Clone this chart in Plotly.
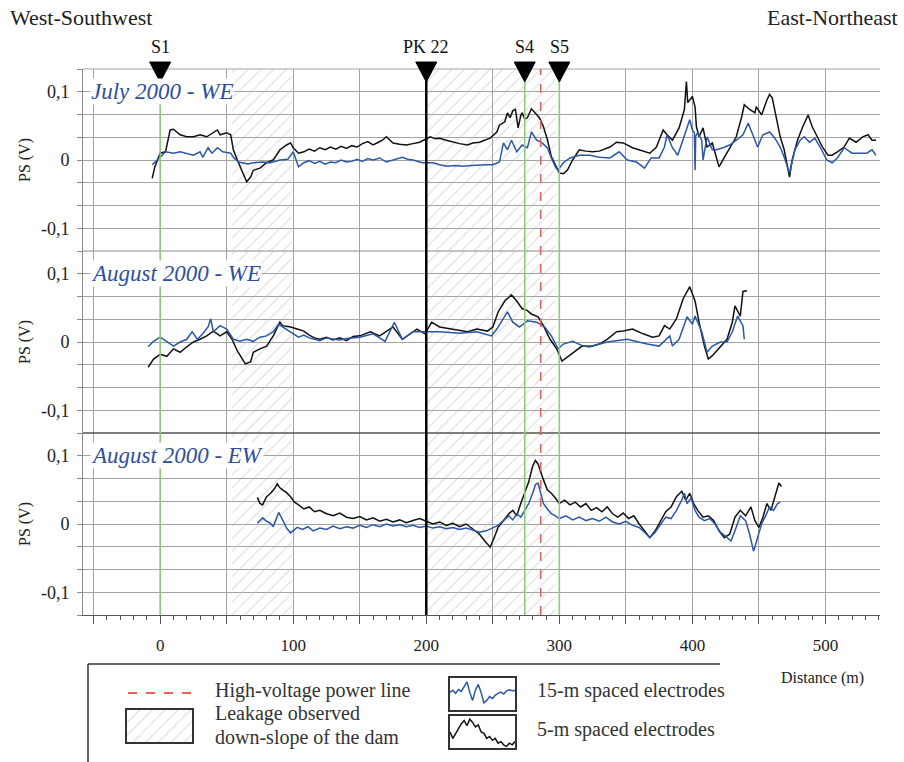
import plotly.graph_objects as go

# ---------------- DATA ----------------
# July 2000 - WE
jul_black_x = [-6, -4, 0, 4, 7.5, 10, 15, 20, 25, 30, 35, 40, 43, 45, 50, 53, 55, 58, 62, 65, 68, 70, 75, 80, 85, 90, 95, 98, 100, 104,
               108, 112, 116, 120, 124, 128, 132, 136, 140, 144, 148, 152, 156, 160, 164,
               167, 170, 175, 180, 185, 190, 195, 199, 203, 207, 210, 215, 220, 225, 231, 235, 240, 244, 248, 253, 255, 259, 261, 263, 265, 267,
               269, 271, 272, 274, 276, 279, 282, 285, 288, 291, 294, 298, 300, 303, 306, 310, 315, 320, 325,
               330, 338, 343, 348, 355, 363, 368, 373, 378, 381, 385, 390, 394, 395.5, 396.5, 400, 402, 403, 405, 408, 411, 415, 418, 420,
               424, 428, 433, 437, 439, 443, 447, 448, 452, 456, 458, 460, 463, 466, 469, 473, 475, 479, 483, 487, 490, 494, 498, 502, 505,
               509, 514, 518, 523, 528, 532, 535, 538]
jul_black_y = [-0.027, -0.010, 0.010, 0.012, 0.044, 0.045, 0.037, 0.034, 0.034, 0.037, 0.034, 0.041, 0.044, 0.037, 0.040, 0.037, 0.015, 0.000, -0.019, -0.032, -0.025, -0.015, -0.012, -0.004, 0.000, 0.015, 0.022, 0.025, 0.018, 0.010,
               0.012, 0.016, 0.013, 0.018, 0.015, 0.019, 0.016, 0.020, 0.017, 0.021, 0.019, 0.024, 0.027, 0.022, 0.026,
               0.029, 0.034, 0.025, 0.023, 0.022, 0.024, 0.026, 0.030, 0.034, 0.031, 0.032, 0.029, 0.026, 0.024, 0.022, 0.025, 0.026, 0.029, 0.032, 0.041, 0.051, 0.056, 0.069, 0.062, 0.072, 0.074,
               0.047, 0.065, 0.069, 0.060, 0.062, 0.075, 0.069, 0.062, 0.049, 0.030, 0.005, -0.010, -0.019, -0.020, -0.015, 0.000, 0.015, 0.013, 0.012,
               0.013, 0.019, 0.026, 0.025, 0.018, 0.013, 0.010, 0.019, 0.044, 0.037, 0.029, 0.047, 0.074, 0.115, 0.084, 0.093, 0.078, 0.049, 0.034, 0.047, 0.019, 0.025, 0.004, -0.010,
               0.004, 0.018, 0.034, 0.063, 0.081, 0.074, 0.069, 0.078, 0.066, 0.088, 0.096, 0.091, 0.062, 0.034, 0.015, -0.025, 0.000, 0.029, 0.049, 0.066, 0.049, 0.034, 0.018, 0.007, 0.007,
               0.012, 0.019, 0.032, 0.026, 0.034, 0.037, 0.029, 0.029]
jul_blue_x = [-6, -2, 0, 4, 10, 15, 20, 25, 30, 32, 36, 39, 43, 47, 53, 55, 59, 62, 66, 70, 77, 83, 90, 96, 100, 104,
              108, 112, 116, 120, 124, 128, 132, 136, 140, 144, 148, 152, 156, 160, 165,
              170, 175, 182, 186, 190, 197, 205, 210, 216, 222, 228, 234, 240, 245, 250, 255, 258, 261, 264, 268, 272, 276, 279, 283, 287,
              291, 294, 297, 299, 303, 308, 315, 323, 330, 338, 345, 351, 358, 364, 369, 375, 379, 381, 385, 389, 393, 396, 398, 400,
              401.5, 402, 402.5, 404, 407, 408, 411, 415, 418, 423, 428, 433, 438, 442, 445, 449, 453, 458, 462, 466, 469, 473, 477, 481,
              484, 488, 492, 496, 501, 505, 509, 514, 520, 526, 531, 535, 538]
jul_blue_y = [-0.007, 0.000, 0.004, 0.012, 0.010, 0.012, 0.010, 0.007, 0.012, 0.004, 0.018, 0.010, 0.018, 0.012, 0.010, 0.004, -0.003, -0.004, -0.006, -0.004, -0.003, -0.004, 0.000, 0.001, 0.012, -0.010,
              -0.004, -0.001, -0.005, -0.002, -0.006, -0.003, -0.004, 0.000, -0.003, -0.002, 0.001, -0.002, 0.002, 0.000, 0.003,
              -0.003, 0.000, 0.004, 0.001, 0.000, -0.004, -0.004, -0.007, -0.009, -0.008, -0.009, -0.008, -0.007, -0.007, -0.007, -0.003, 0.025, 0.015, 0.029, 0.012, 0.022, 0.018, 0.041, 0.029, 0.025,
              0.018, 0.003, -0.010, -0.015, -0.004, 0.003, 0.007, 0.007, 0.004, 0.003, 0.012, 0.000, -0.003, -0.012, 0.003, 0.003, 0.019, 0.037, 0.018, 0.007, 0.029, 0.047, 0.059, 0.044,
              0.040, -0.015, 0.035, 0.040, 0.029, 0.000, 0.034, 0.015, 0.015, 0.018, 0.022, 0.029, 0.037, 0.054, 0.040, 0.019, 0.037, 0.041, 0.032, 0.019, 0.004, -0.019, 0.015, 0.029,
              0.034, 0.026, 0.032, 0.019, 0.000, -0.004, 0.003, 0.018, 0.010, 0.010, 0.010, 0.015, 0.007]

# August 2000 - WE
augwe_black_x = [-9, -5, 0, 5, 10, 15, 20, 25, 30, 35, 40, 45, 50, 54, 58, 62, 64, 68, 70, 75, 80, 85, 90, 92, 98, 103,
                 108, 112, 116, 120, 125, 130, 135, 140, 145,
                 150, 158, 165, 175, 182, 193, 199, 204, 210, 220, 231, 238, 246, 250, 254, 259, 264, 268, 272, 276, 279, 284, 288, 293,
                 298, 302, 306, 312, 317, 323, 330, 336, 343, 348, 355, 363, 370, 375, 379, 383, 388, 393, 398, 402, 405, 409, 412, 415,
                 421, 426, 430, 432, 436, 438, 441]
augwe_black_y = [-0.037, -0.025, -0.018, -0.021, -0.010, -0.015, -0.007, 0.000, 0.004, 0.009, 0.016, 0.009, 0.015, 0.004, -0.013, -0.025, -0.032, -0.029, -0.015, -0.010, -0.006, 0.009, 0.029, 0.024, 0.022, 0.019,
                 0.016, 0.010, 0.006, 0.004, 0.007, 0.003, 0.006, 0.002, 0.008,
                 0.009, 0.015, 0.009, 0.022, 0.004, 0.019, 0.012, 0.029, 0.022, 0.019, 0.015, 0.019, 0.016, 0.022, 0.044, 0.060, 0.069, 0.060, 0.049, 0.046, 0.041, 0.037, 0.024, 0.004,
                 -0.010, -0.028, -0.022, -0.013, -0.006, -0.007, -0.003, 0.004, 0.015, 0.016, 0.019, 0.012, 0.007, 0.009, 0.024, 0.019, 0.034, 0.063, 0.081, 0.060, 0.029, -0.006, -0.025, -0.020,
                 -0.006, 0.004, 0.029, 0.053, 0.038, 0.074, 0.075]
augwe_blue_x = [-9, -5, 0, 5, 10, 15, 20, 24, 28, 32, 36, 38, 40, 45, 50, 55, 60, 65, 70, 75, 80, 85, 89, 92, 98, 104,
                108, 112, 116, 120, 125, 130, 135, 140, 145,
                150, 160, 169, 176, 182, 190, 199, 210, 225, 238, 249, 253, 261, 265, 270, 276, 283, 289, 294, 299, 303, 310, 318, 325,
                336, 351, 366, 375, 383, 385, 390, 396, 400, 402, 407, 411, 415, 421, 426, 430, 434, 438, 439]
augwe_blue_y = [-0.007, 0.001, 0.007, 0.001, -0.006, 0.000, 0.004, 0.015, 0.004, 0.012, 0.022, 0.034, 0.015, 0.024, 0.019, 0.004, 0.001, 0.004, 0.001, 0.007, 0.009, 0.015, 0.026, 0.022, 0.015, 0.007,
                0.010, 0.006, 0.004, 0.002, 0.006, 0.004, 0.003, 0.005, 0.006,
                0.007, 0.012, 0.001, 0.029, 0.004, 0.015, 0.015, 0.015, 0.013, 0.015, 0.009, 0.019, 0.044, 0.029, 0.022, 0.031, 0.029, 0.022, 0.009, -0.010, -0.003, 0.001, -0.006, -0.006,
                0.000, 0.004, -0.003, -0.006, 0.009, -0.006, 0.004, 0.037, 0.026, 0.038, 0.015, -0.015, -0.006, 0.000, 0.000, 0.015, 0.038, 0.024, 0.004]

# August 2000 - EW
augew_black_x = [73, 75, 77, 80, 83, 86, 88, 90, 92, 95, 98, 101, 104, 108, 112, 116, 120, 125, 130, 135, 140, 145, 150, 155, 160, 165,
                 170, 175, 180, 185, 190, 195, 200, 205, 210, 215, 220, 225, 230, 235, 240, 244, 248, 251, 254, 258, 262, 265, 268, 271,
                 274, 277, 280, 282, 284, 286, 288, 291, 294, 297, 300, 304, 308, 312, 316, 320, 324, 328, 332, 336, 340, 344, 348, 352,
                 356, 360, 364, 368, 372, 376, 380, 384, 388, 392, 395, 398, 401, 404, 408, 412, 416, 420, 424, 428, 432, 436, 440, 444,
                 447, 450, 453, 456, 459, 462, 465, 467]
augew_black_y = [0.039, 0.030, 0.028, 0.040, 0.045, 0.052, 0.059, 0.053, 0.050, 0.046, 0.040, 0.032, 0.028, 0.022, 0.025, 0.018, 0.020, 0.015, 0.012, 0.016, 0.010, 0.008, 0.011, 0.006, 0.009, 0.004,
                 0.007, 0.003, 0.006, 0.002, 0.005, 0.008, 0.004, 0.000, 0.003, -0.002, 0.001, -0.004, 0.000, -0.008, -0.015, -0.025, -0.034, -0.020, -0.005, 0.005, 0.015, 0.020, 0.012, 0.030,
                 0.045, 0.062, 0.085, 0.093, 0.088, 0.075, 0.065, 0.050, 0.045, 0.038, 0.030, 0.035, 0.028, 0.032, 0.025, 0.030, 0.020, 0.024, 0.018, 0.025, 0.015, 0.010, 0.016, 0.008,
                 0.012, 0.000, -0.010, -0.020, -0.010, 0.005, 0.018, 0.025, 0.040, 0.048, 0.035, 0.045, 0.030, 0.020, 0.010, 0.012, 0.005, -0.010, -0.020, -0.015, 0.010, 0.020, 0.012, 0.025,
                 0.005, -0.005, 0.010, 0.030, 0.020, 0.040, 0.060, 0.055]
augew_blue_x = [73, 75, 77, 80, 83, 85, 87, 89, 91, 93, 95, 98, 101, 103, 107, 111, 115, 120, 125, 130, 135, 140, 145, 150, 155, 160,
                165, 170, 175, 180, 185, 190, 195, 200, 205, 210, 215, 220, 225, 230, 235, 240, 245, 250, 254, 258, 262, 265, 268, 271,
                274, 277, 280, 282, 284, 286, 288, 291, 294, 297, 300, 305, 310, 315, 320, 325, 330, 335, 340, 345, 350, 355, 360, 364,
                368, 372, 376, 380, 384, 388, 392, 394, 396, 399, 402, 405, 409, 413, 417, 421, 425, 429, 432, 436, 440, 443, 446, 449,
                452, 455, 458, 461, 464, 466]
augew_blue_y = [0.001, 0.005, 0.009, 0.004, 0.001, -0.004, 0.008, 0.017, 0.010, 0.002, -0.006, -0.013, -0.008, -0.005, -0.008, -0.004, -0.010, -0.006, -0.008, -0.003, -0.007, -0.004, -0.006, -0.002, -0.005, -0.001,
                -0.004, 0.000, -0.003, -0.001, -0.004, -0.002, -0.005, -0.003, -0.006, -0.004, -0.007, -0.005, -0.008, -0.006, -0.009, -0.012, -0.010, -0.006, -0.002, 0.005, 0.012, 0.006, 0.015, 0.010,
                0.020, 0.030, 0.045, 0.058, 0.060, 0.045, 0.030, 0.022, 0.015, 0.012, 0.008, 0.012, 0.006, 0.010, 0.005, 0.008, 0.004, 0.010, 0.003, 0.000, 0.004, -0.002, -0.005, -0.012,
                -0.020, -0.012, 0.000, 0.010, 0.008, 0.020, 0.035, 0.045, 0.030, 0.038, 0.020, 0.010, 0.005, 0.008, 0.000, -0.012, -0.018, -0.025, -0.010, 0.012, 0.005, -0.015, -0.040, -0.020,
                0.000, 0.012, 0.025, 0.020, 0.030, 0.032]

# Landmarks (m)
marker_names = ["S1", "PK 22", "S4", "S5"]
marker_pos = [0, 200, 274, 300]
green_lines = [0, 274, 300]
pk_line = 200
power_line = 286
leak_regions = [(54, 99), (200, 297)]

x_tick_vals = [0, 100, 200, 300, 400, 500]
y_tick_labels = {-3: "-0,1", 0: "0", 3: "0,1"}

# Legend sample wiggles (arbitrary units)
legend_blue_sample = [0.55, 0.62, 0.52, 0.64, 0.58, 0.72, 0.88, 0.55, 0.30, 0.62, 0.80, 0.55, 0.22, 0.30, 0.42, 0.36, 0.46, 0.52, 0.56, 0.50, 0.60, 0.63, 0.60, 0.61]
legend_black_sample = [0.50, 0.30, 0.45, 0.62, 0.76, 0.86, 0.70, 0.90, 0.80, 0.66, 0.72, 0.50, 0.46, 0.30, 0.36, 0.24, 0.30, 0.15, 0.20, 0.10, 0.05, 0.15, 0.10, 0.20]

# ---------------- STYLE ----------------
SERIF = "Liberation Serif"
GRID = "#a3a3a3"
BLUE = "#2b57a7"
TITLE_BLUE = "#2e4f9e"
BLACK = "#111111"
GREEN = "#8ccb7a"
RED = "#e0655e"
X_RANGE = [-58, 541]
Y_LIM = 2 / 15
W, H = 904, 762
ML, MR, MT, MB = 83, 24, 69, 0
PW, PH = W - ML - MR, H - MT - MB


def px(xp):
    return (xp - ML) / PW


def py(yp):
    return (H - MB - yp) / PH


domains = [[py(251), 1.0], [py(433), py(251)], [py(615), py(433)]]
PLOT_BOTTOM = domains[2][0]

panels = [
    ("July 2000 - WE", jul_black_x, jul_black_y, jul_blue_x, jul_blue_y),
    ("August 2000 - WE", augwe_black_x, augwe_black_y, augwe_blue_x, augwe_blue_y),
    ("August 2000 - EW", augew_black_x, augew_black_y, augew_blue_x, augew_blue_y),
]

fig = go.Figure()
layout = dict(
    width=W, height=H, margin=dict(l=ML, r=MR, t=MT, b=MB),
    paper_bgcolor="white", plot_bgcolor="white", showlegend=False,
    font=dict(family=SERIF, color="#222"),
)
annotations = []
shapes = []

hatch = dict(shape="/", fgcolor="#b8b8b8", bgcolor="rgba(255,255,255,0)", size=9, solidity=0.12)

for i, (title, bx, by, ux, uy) in enumerate(panels):
    sfx = "" if i == 0 else str(i + 1)
    xa, ya = "x" + sfx, "y" + sfx
    for (a, b) in leak_regions:
        fig.add_trace(go.Scatter(x=[a, b, b, a, a], y=[-Y_LIM, -Y_LIM, Y_LIM, Y_LIM, -Y_LIM],
                                 mode="lines", line=dict(width=0), fill="toself",
                                 fillcolor="rgba(255,255,255,0)", fillpattern=hatch,
                                 hoverinfo="skip", xaxis=xa, yaxis=ya))
    fig.add_trace(go.Scatter(x=bx, y=by, mode="lines", line=dict(color=BLACK, width=1.5),
                             xaxis=xa, yaxis=ya))
    fig.add_trace(go.Scatter(x=ux, y=uy, mode="lines", line=dict(color=BLUE, width=1.5),
                             xaxis=xa, yaxis=ya))
    bottom = (i == 2)
    xdict = dict(domain=[0, 1], anchor=ya, range=X_RANGE, showgrid=True, gridcolor=GRID,
                 gridwidth=1, zeroline=False, showline=bottom, linecolor="#555", linewidth=1.2,
                 tickmode="array", tickvals=list(range(-50, 501, 50)))
    if bottom:
        xdict.update(ticktext=[str(v) if v in x_tick_vals else "" for v in range(-50, 501, 50)],
                     ticks="outside", ticklen=8, tickcolor="#555", tickwidth=1,
                     tickfont=dict(family=SERIF, size=17, color="#222"),
                     ticklabelstandoff=6,
                     minor=dict(tickmode="array",
                                tickvals=[v for v in range(-50, 541, 10) if v % 50 != 0],
                                ticks="outside", ticklen=4, tickcolor="#555", showgrid=False))
    else:
        xdict.update(showticklabels=False, ticks="", matches="x3")
    layout["xaxis" + sfx] = xdict
    layout["yaxis" + sfx] = dict(
        domain=domains[i], anchor=xa, range=[-Y_LIM, Y_LIM], tickmode="array",
        tickvals=[k / 30 for k in range(-4, 5)],
        ticktext=[y_tick_labels.get(k, "") for k in range(-4, 5)],
        showgrid=True, gridcolor=GRID, gridwidth=1, zeroline=False,
        showline=True, linecolor="#8a8a8a", linewidth=1,
        ticks="outside", ticklen=5, tickcolor="#8a8a8a",
        tickfont=dict(family=SERIF, size=18, color="#222"), ticklabelstandoff=4,
    )
    annotations.append(dict(text="<i>" + title + "</i>", xref="paper", yref=ya, x=px(90), y=0.1,
                            xanchor="left", yanchor="middle", showarrow=False,
                            font=dict(family=SERIF, size=23, color=TITLE_BLUE),
                            bgcolor="white", borderpad=0))
    annotations.append(dict(text="PS (V)", xref="paper", yref=ya, x=px(25), y=0,
                            xanchor="center", yanchor="middle", showarrow=False, textangle=-90,
                            font=dict(family=SERIF, size=16, color="#222")))

# panel boundaries
shapes.append(dict(type="line", xref="paper", yref="paper", x0=0, x1=1, y0=1, y1=1,
                   line=dict(color=GRID, width=1)))
shapes.append(dict(type="line", xref="paper", yref="paper", x0=0, x1=1, y0=domains[0][0], y1=domains[0][0],
                   line=dict(color="#8a8a8a", width=1)))
shapes.append(dict(type="line", xref="paper", yref="paper", x0=0, x1=1, y0=domains[1][0], y1=domains[1][0],
                   line=dict(color="#555", width=1.6)))

# vertical landmark lines
for g in green_lines:
    shapes.append(dict(type="line", xref="x3", yref="paper", x0=g, x1=g, y0=PLOT_BOTTOM, y1=1,
                       line=dict(color=GREEN, width=1.6), layer="above"))
shapes.append(dict(type="line", xref="x3", yref="paper", x0=power_line, x1=power_line, y0=PLOT_BOTTOM, y1=1,
                   line=dict(color=RED, width=1.6, dash="dash"), layer="above"))
shapes.append(dict(type="line", xref="x3", yref="paper", x0=pk_line, x1=pk_line, y0=PLOT_BOTTOM, y1=py(62),
                   line=dict(color="#000", width=2.5), layer="above"))

# triangles and labels
for name, pos in zip(marker_names, marker_pos):
    shapes.append(dict(type="path", xref="x3", yref="paper", xsizemode="pixel", ysizemode="pixel",
                       xanchor=pos, yanchor=py(62), path="M-10.5,0 L10.5,0 L0,-20 Z",
                       fillcolor="#000", line=dict(color="#000", width=1)))
    annotations.append(dict(text=name, xref="x3", yref="paper", x=pos, y=py(47),
                            xanchor="center", yanchor="middle", showarrow=False,
                            font=dict(family=SERIF, size=18, color="#111")))

# titles
annotations.append(dict(text="West-Southwest", xref="paper", yref="paper", x=px(8), y=py(18),
                        xanchor="left", yanchor="middle", showarrow=False,
                        font=dict(family=SERIF, size=22, color="#222")))
annotations.append(dict(text="East-Northeast", xref="paper", yref="paper", x=px(900), y=py(18),
                        xanchor="right", yanchor="middle", showarrow=False,
                        font=dict(family=SERIF, size=22, color="#222")))
annotations.append(dict(text="Distance (m)", xref="paper", yref="paper", x=px(822), y=py(678),
                        xanchor="center", yanchor="middle", showarrow=False,
                        font=dict(family=SERIF, size=16, color="#222")))

# ---------------- LEGEND ----------------
shapes.append(dict(type="line", xref="paper", yref="paper", x0=px(88), x1=px(720), y0=py(664), y1=py(664),
                   line=dict(color="#333", width=1.5)))
shapes.append(dict(type="line", xref="paper", yref="paper", x0=px(88), x1=px(88), y0=py(664), y1=0,
                   line=dict(color="#333", width=1.5)))
shapes.append(dict(type="line", xref="paper", yref="paper", x0=px(128), x1=px(193), y0=py(693), y1=py(693),
                   line=dict(color=RED, width=2, dash="dash")))
legend_texts = [
    ("High-voltage power line", 213, 690),
    ("Leakage observed", 213, 713),
    ("down-slope of the dam", 213, 737),
    ("15-m spaced electrodes", 535, 690),
    ("5-m spaced electrodes", 535, 729),
]
for t, lx, ly in legend_texts:
    annotations.append(dict(text=t, xref="paper", yref="paper", x=px(lx), y=py(ly),
                            xanchor="left", yanchor="middle", showarrow=False,
                            font=dict(family=SERIF, size=20, color="#333")))

# legend swatches on their own small axes
legend_boxes = [
    ("4", [px(127), px(192)], [py(742), py(710)], None, None),
    ("5", [px(450), px(515)], [py(710), py(678)], legend_blue_sample, BLUE),
    ("6", [px(450), px(515)], [py(748), py(716)], legend_black_sample, BLACK),
]
for n, dx, dy, sample, col in legend_boxes:
    if sample is None:
        fig.add_trace(go.Scatter(x=[0, 1, 1, 0, 0], y=[0, 0, 1, 1, 0], mode="lines",
                                 line=dict(width=0), fill="toself", fillcolor="rgba(255,255,255,0)",
                                 fillpattern=hatch, hoverinfo="skip", xaxis="x" + n, yaxis="y" + n))
        rng_x = [0, 1]
    else:
        fig.add_trace(go.Scatter(x=list(range(len(sample))), y=sample, mode="lines",
                                 line=dict(color=col, width=1.5), hoverinfo="skip",
                                 xaxis="x" + n, yaxis="y" + n))
        rng_x = [0, len(sample) - 1]
    common = dict(showgrid=False, zeroline=False, showticklabels=False, ticks="",
                  showline=True, mirror=True, linecolor="#333", linewidth=1.5, fixedrange=True)
    layout["xaxis" + n] = dict(domain=dx, anchor="y" + n, range=rng_x, **common)
    layout["yaxis" + n] = dict(domain=dy, anchor="x" + n, range=[0, 1], **common)

layout["annotations"] = annotations
layout["shapes"] = shapes
fig.update_layout(**layout)
fig.write_html("out.html")
